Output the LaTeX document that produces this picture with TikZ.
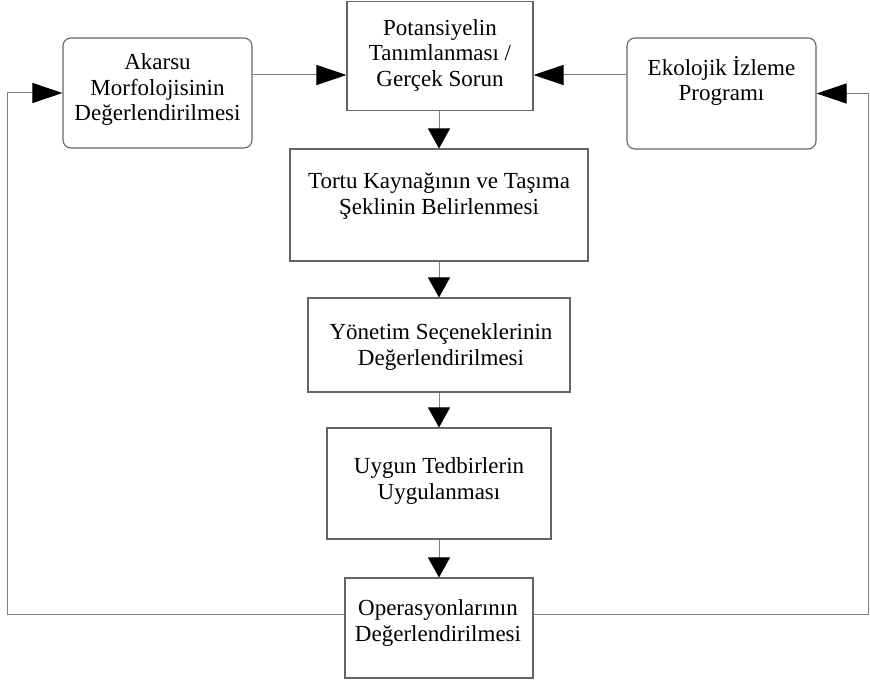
\documentclass[tikz,border=0pt]{standalone}
\usepackage{fontspec}
\setmainfont{Liberation Serif}
\usetikzlibrary{arrows.meta,calc,positioning}
\definecolor{linegray}{gray}{0.5}
\definecolor{boxgray}{gray}{0.4}
\tikzset{%
	box/.style    = {draw=boxgray, line width=1.1pt, rectangle, inner sep=0pt},
	rbox/.style   = {box, rounded corners=8pt},
	txt/.style    = {align=center, font=\fontsize{23}{25.5}\selectfont, inner sep=0pt},
	harrow/.style = {draw=linegray, line width=1pt, -{Triangle[length=30pt,width=20pt,color=black]}},
	varrow/.style = {draw=linegray, line width=1pt, -{Triangle[length=20pt,width=22pt,color=black]}},
}

\begin{document}
\begin{tikzpicture}[x=1pt,y=-1pt]
	\useasboundingbox (0,0) rectangle (870,684);
	% boxes
	\node[box, minimum width=186pt, minimum height=109pt] (potansiyel) at (440,56) {};
	\node[rbox, minimum width=189pt, minimum height=110pt] (akarsu) at (157.5,93) {};
	\node[rbox, minimum width=189pt, minimum height=111pt] (ekolojik) at (721.5,93.5) {};
	\node[box, minimum width=298pt, minimum height=112pt] (tortu) at (439,205) {};
	\node[box, minimum width=262pt, minimum height=94pt] (yonetim) at (439,345) {};
	\node[box, minimum width=224pt, minimum height=111pt] (uygun) at (439,483.5) {};
	\node[box, minimum width=188pt, minimum height=100pt] (operasyon) at (439,628) {};
	% texts
	\node[txt] (potansiyelT) at (440,55) {Potansiyelin\\Tanımlanması /\\Gerçek Sorun};
	\node[txt] (akarsuT) at (157.5,89.7) {Akarsu\\Morfolojisinin\\Değerlendirilmesi};
	\node[txt] (ekolojikT) at (721.5,81) {Ekolojik İzleme\\Programı};
	\node[txt] (tortuT) at (439,196.2) {Tortu Kaynağının ve Taşıma\\Şeklinin Belirlenmesi};
	\node[txt] (yonetimT) at (441,347.2) {Yönetim Seçeneklerinin\\Değerlendirilmesi};
	\node[txt] (uygunT) at (439,481.2) {Uygun Tedbirlerin\\Uygulanması};
	\node[txt] (operasyonT) at (438,623.2) {Operasyonlarının\\Değerlendirilmesi};
	% connectors
	\coordinate (top) at (0,75);
	\coordinate (low) at (0,614);
	\coordinate (west) at (7,0);
	\coordinate (east) at (868.5,0);
	\draw[harrow] (akarsu.east |- top) -- (potansiyel.west |- top);
	\draw[harrow] (ekolojik.west |- top) -- (potansiyel.east |- top);
	\draw[varrow] (potansiyel.south -| tortu) -- (tortu.north);
	\draw[varrow] (tortu.south) -- (yonetim.north);
	\draw[varrow] (yonetim.south) -- (uygun.north);
	\draw[varrow] (uygun.south) -- (operasyon.north);
	\draw[harrow] (operasyon.west |- low) -| (west |- akarsu.west) -- (akarsu.west);
	\draw[harrow] (operasyon.east |- low) -| (east |- ekolojik.east) -- (ekolojik.east);
\end{tikzpicture}
\end{document}
